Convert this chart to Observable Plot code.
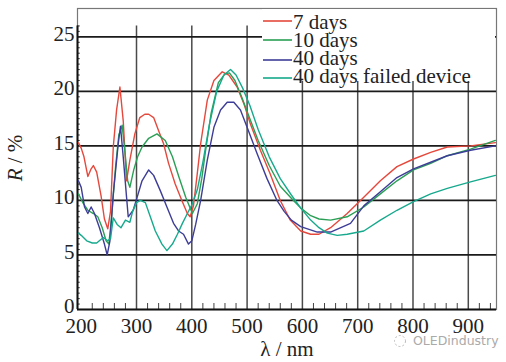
<!DOCTYPE html>
<html><head><meta charset="utf-8">
<script src="https://cdn.jsdelivr.net/npm/d3@7"></script>
<script src="https://cdn.jsdelivr.net/npm/@observablehq/plot@0.6"></script>
<style>
body{margin:0;background:#fff;}
#wrap{position:relative;width:506px;height:362px;overflow:hidden;background:#fff;}
#wrap svg{position:absolute;left:0;top:0;}
#wrap svg, #wrap svg text{font-family:"Liberation Serif","Times New Roman",Times,Tinos,"Noto Serif","DejaVu Serif",serif;}
</style></head><body><div id="wrap"></div>
<script>
const seriesNames = ["7 days","10 days","40 days","40 days failed device"];
const seriesColors = ["#e5483c","#2a9f55","#3d3d98","#17a98d"];

const wl7 = [195,200,205,212,218,222,228,236,242,248,253,258,264,270,276,282,288,297,306,315,322,331,340,349,358,370,382,392,397,403,410,416,428,440,455,467,482,494,506,524,542,560,578,597,615,630,651,681,711,741,771,801,832,862,904,949];
const r7  = [15.3,14.8,14.0,12.2,12.9,13.2,12.6,10.4,8.3,7.4,9.0,14.9,18.3,20.4,17.3,11.8,13.7,16.1,17.6,17.9,17.9,17.6,16.4,15.2,13.4,11.5,10.0,8.8,8.5,9.5,12.5,15.2,19.2,21.0,21.8,21.5,20.4,18.9,17.0,14.6,12.4,10.0,8.2,7.2,6.9,6.9,7.5,8.8,10.3,11.8,13.1,13.8,14.4,14.9,15.0,15.3];

const wl10 = [195,204,212,222,230,238,245,250,255,262,268,274,279,284,288,295,302,310,322,337,352,365,377,389,401,410,418,425,435,448,460,468,478,490,505,520,540,560,580,597,615,630,651,681,711,741,771,801,832,862,904,949];
const r10  = [10.6,9.7,9.1,8.8,8.5,7.5,6.3,6.0,8.5,13.0,16.0,16.9,14.5,11.8,11.2,12.8,14.0,14.9,15.7,16.1,15.5,14.0,12.1,10.3,8.8,9.7,12.0,14.6,18.0,20.8,21.6,21.7,21.0,19.5,17.5,15.5,13.2,11.3,10.2,9.3,8.6,8.3,8.2,8.5,9.4,10.6,11.8,12.8,13.4,14.1,14.7,15.5];

const wl40 = [195,200,206,212,218,224,233,242,247,252,258,267,271,276,282,285,294,303,310,322,331,343,355,367,376,385,394,400,407,416,428,440,452,464,476,488,500,518,536,554,567,580,597,627,651,687,711,741,771,801,832,862,904,949];
const r40  = [11.8,11.2,9.4,8.8,9.4,8.8,7.5,6.0,5.0,6.3,10.6,15.2,16.8,14.0,10.3,8.5,9.1,10.6,11.8,12.8,12.3,10.9,9.4,7.9,7.2,6.9,6.0,6.3,7.8,10.0,13.7,16.7,18.3,19.0,19.0,18.3,16.7,14.3,12.0,10.0,9.0,8.2,7.6,7.1,7.1,7.9,9.5,10.8,12.1,12.9,13.5,14.1,14.6,15.0];

const wlF = [195,200,210,220,228,235,240,248,253,258,265,272,280,288,293,300,307,316,325,334,346,355,365,374,383,392,401,410,420,432,445,458,470,480,492,505,520,540,560,580,597,615,630,645,663,681,711,741,771,801,832,862,904,949];
const rF  = [7.0,6.8,6.3,6.1,6.1,6.4,6.6,6.3,6.5,8.4,7.8,7.5,8.2,8.0,9.0,9.8,10.0,9.8,8.5,7.2,6.0,5.4,6.0,6.9,7.9,8.8,9.7,11.0,13.5,17.0,20.0,21.5,22.0,21.5,20.3,18.7,16.5,14.0,12.0,10.5,9.3,8.2,7.5,7.0,6.8,6.9,7.2,8.2,9.1,9.9,10.6,11.1,11.7,12.3];

const xTicks = [200,300,400,500,600,700,800,900];
const yTicks = [0,5,10,15,20,25];
const xLabel = "λ / nm";
const yLabelItalic = "R";
const yLabelRest = " / %";
const watermark = "OLEDindustry";

const xDomain = [193.3, 951];
const yDomain = [0, 27.6];
const serif = "'Liberation Serif', 'Times New Roman', Times, Tinos, 'Noto Serif', 'DejaVu Serif', serif";

const seriesX = [wl7, wl10, wl40, wlF];
const seriesY = [r7, r10, r40, rF];
const rows = [];
seriesNames.forEach((name, i) => {
  seriesX[i].forEach((w, j) => rows.push({series: name, wl: w, R: seriesY[i][j]}));
});

const xMinor = d3.range(220, 951, 20).filter(v => v % 100 !== 0);
const yMinor = d3.range(0.5, 26.01, 0.5);

const chart = Plot.plot({
  width: 506, height: 362,
  marginLeft: 77, marginRight: 10, marginTop: 8, marginBottom: 53,
  x: {domain: xDomain},
  y: {domain: yDomain},
  color: {domain: seriesNames, range: seriesColors},
  style: {fontFamily: serif, fontSize: "21px", background: "transparent", color: "#222"},
  marks: [
    Plot.frame({stroke: "#777", strokeWidth: 1.2}),
    Plot.ruleX(xTicks.slice(1), {y1: 0, y2: 26, stroke: "#4a4a4a", strokeWidth: 1.5}),
    Plot.ruleY(yTicks.slice(1), {stroke: "#1a1a1a", strokeWidth: 1.7}),
    Plot.ruleX(xMinor, {y1: 0, y2: 0.55, stroke: "#444", strokeWidth: 1}),
    Plot.ruleY(yMinor, {x1: xDomain[0], x2: xDomain[0] + 5, stroke: "#333", strokeWidth: 1}),
    Plot.ruleX([xDomain[0]], {y1: 0, y2: 26, stroke: "#111", strokeWidth: 2}),
    Plot.ruleY([0], {stroke: "#111", strokeWidth: 2}),
    Plot.line(rows, {x: "wl", y: "R", z: "series", stroke: "series", strokeWidth: 1.4, curve: "linear"}),
    Plot.axisX({ticks: xTicks, tickSize: 0, tickPadding: 9, label: null}),
    Plot.axisY({ticks: yTicks, tickSize: 0, tickPadding: 3, dy: -3, label: null})
  ]
});
const wrap = document.getElementById("wrap");
wrap.appendChild(chart);

// overlay: legend, axis titles, watermark
const ov = d3.select(wrap).append("svg").attr("width", 506).attr("height", 362);
ov.append("rect").attr("x", 262).attr("y", 9).attr("width", 233).attr("height", 72).attr("fill", "#fff");
const lineYs = [21, 40, 60, 78];
const textYs = [29, 47, 65, 83];
seriesNames.forEach((name, i) => {
  ov.append("line").attr("x1", 263).attr("x2", 292).attr("y1", lineYs[i]).attr("y2", lineYs[i])
    .attr("stroke", seriesColors[i]).attr("stroke-width", 1.6);
  ov.append("text").attr("x", 293).attr("y", textYs[i]).attr("font-size", 21).attr("fill", "#222").text(name);
});
const yl = ov.append("text").attr("transform", "translate(22,158) rotate(-90)").attr("text-anchor", "middle")
  .attr("font-size", 21).attr("fill", "#222");
yl.append("tspan").attr("font-style", "italic").text(yLabelItalic);
yl.append("tspan").text(yLabelRest);
ov.append("text").attr("x", 287).attr("y", 356).attr("text-anchor", "middle").attr("font-size", 21).attr("fill", "#222").text(xLabel);
ov.append("text").attr("x", 413).attr("y", 345).attr("font-size", 12.5).attr("fill", "#aaa")
  .style("font-family", "'DejaVu Sans', sans-serif").text(watermark);
ov.append("circle").attr("cx", 400).attr("cy", 341).attr("r", 5.5).attr("fill", "none").attr("stroke", "#bbb").attr("stroke-dasharray", "2 2");
</script></body></html>
